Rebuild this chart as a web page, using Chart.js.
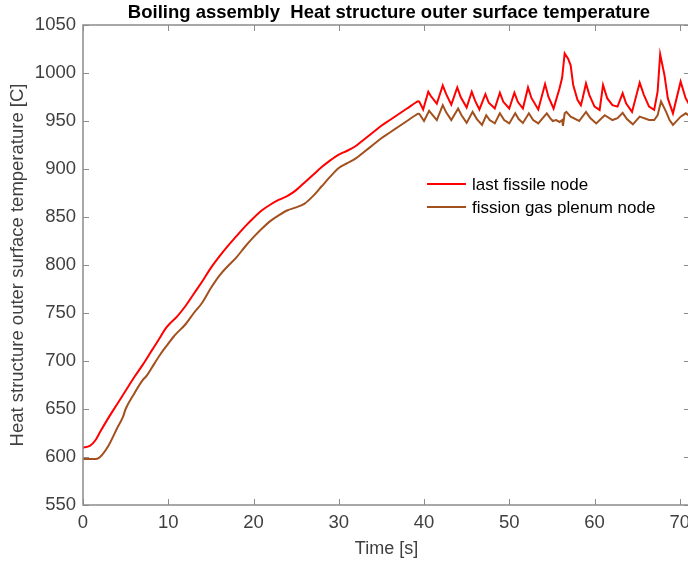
<!DOCTYPE html>
<html>
<head>
<meta charset="utf-8">
<script src="https://cdn.jsdelivr.net/npm/chart.js@4.4.0/dist/chart.umd.min.js"></script>
<style>
  html, body { margin: 0; padding: 0; background: #fff; overflow: hidden; }
  #wrap { width: 688px; height: 562px; overflow: hidden; }
</style>
</head>
<body>
<div id="wrap"><canvas id="myChart" width="692" height="562"></canvas></div>
<script>
const chartTitle = "Boiling assembly  Heat structure outer surface temperature";
const xTitle = "Time [s]";
const yTitle = "Heat structure outer surface temperature [C]";
const seriesNames = ["last fissile node", "fission gas plenum node"];
const seriesColors = ["#ff0000", "#a2501e"];

const redTime = [0, 0.8, 1.5, 2, 3, 4, 5, 6, 7, 8, 9, 9.7, 10.3, 11, 12, 13, 14, 15, 16, 17, 18, 19, 20,
  21, 22, 23, 24, 25, 26, 27, 28, 29, 30, 31, 32, 33, 34, 35, 36, 37, 38, 39, 39.4,
  39.9, 40.5, 40.8, 41.5, 42.2, 42.6, 43.2, 43.9, 44.3, 45.0, 45.6, 46.0, 46.5, 47.2, 47.6, 48.3,
  48.9, 49.3, 50.0, 50.6, 51.0, 51.6, 52.2, 52.6, 53.4, 54.2, 54.6, 55.2, 55.9, 56.2, 56.5, 56.9,
  57.2, 57.5, 58.0, 58.4, 58.6, 59.0, 59.4, 60.0, 60.6, 61.0, 61.5, 62.1, 62.7, 63.3, 63.7, 64.4,
  65.3, 65.8, 66.4, 67.0, 67.4, 67.7, 68.2, 68.6, 69.2, 70.1, 70.7, 71.2];
const redTemp = [610, 611.5, 618, 626, 641, 655, 669, 683, 696, 710, 724, 734, 740, 746, 757, 770, 783, 797, 809, 820, 830, 840, 849,
  857, 863, 868, 872, 878, 886, 894, 902, 909, 915, 919, 924, 931, 938, 945, 951, 957, 963, 969, 971,
  962, 980.5, 976, 968, 987, 978, 967, 985, 975, 964, 980.5, 971, 962, 978, 969, 963,
  979.5, 970, 963, 979.5, 970, 963, 985, 974, 962, 988.5, 975, 963, 984, 995, 1020.5, 1015,
  1008, 987.5, 972, 966.5, 973.5, 989, 977, 965, 961.5, 987.5, 973.5, 966.5, 965, 979, 968.5, 959.5,
  990, 977, 965, 961.5, 980.5, 1019.5, 998, 973.5, 958, 991, 973.5, 966];

const brownTime = [0, 1.5, 2, 3, 4, 4.7, 5, 6, 7, 7.5, 8, 9, 9.4, 10, 10.6, 11, 12, 13, 14, 15, 16, 17, 18, 19, 20,
  21, 22, 23, 24, 25, 26, 27, 28, 29, 30, 31, 32, 33, 34, 35, 36, 37, 38, 39, 39.4,
  40.0, 40.6, 41.5, 42.2, 42.6, 43.2, 44.0, 44.4, 45.0, 45.7, 46.2, 46.8, 47.3, 47.7, 48.3, 48.9,
  49.4, 50.0, 50.7, 51.1, 51.6, 52.3, 52.8, 53.4, 54.4, 54.8, 55.1, 55.5, 55.9, 56.2, 56.3, 56.5,
  56.7, 57.2, 58.2, 59.0, 59.5, 60.2, 61.2, 62.1, 62.7, 63.3, 63.8, 64.5, 65.3, 66.4, 67.0, 67.4,
  67.8, 68.4, 68.8, 69.2, 70.1, 70.7, 71.2];
const brownTemp = [598, 598, 600, 612, 630, 642, 650, 666, 680, 685, 692, 706, 711, 718, 725, 729, 738, 750, 761, 776, 789, 799, 808, 819, 829,
  838, 846, 852, 857, 860, 864, 872, 882, 892, 901, 906, 911, 918, 925, 932, 938, 944, 950, 956, 958,
  950, 960.5, 951, 966.5, 959, 951, 963, 956, 948, 959.5, 952, 946, 956, 951, 947.5, 958,
  951, 947.5, 958, 952, 948, 958, 951, 947.5, 958, 953, 950, 951, 949, 951, 945, 958,
  959.5, 954.5, 950, 959.5, 953, 947.5, 956, 951, 953, 958.5, 952, 946.5, 954.5, 951, 951, 956,
  970.5, 959.5, 951, 946, 954.5, 958, 955];

const xTicks = [0, 10, 20, 30, 40, 50, 60, 70];
const yTicks = [550, 600, 650, 700, 750, 800, 850, 900, 950, 1000, 1050];
// the smooth heat-up part ends here, after that the signal oscillates
const rampEnd = 39.4;

const fontFamily = "'Liberation Sans', Arial, sans-serif";
const axisColor = "#8c8c8c";
const textColor = "#404040";

function toPoints(xs, ys) {
  return xs.map((x, i) => ({ x: x, y: ys[i] }));
}

// ramp drawn smooth, oscillating part drawn point to point
function seriesDatasets(xs, ys, idx) {
  const pts = toPoints(xs, ys);
  const common = { borderColor: seriesColors[idx], borderWidth: 2, pointRadius: 0, fill: false, label: seriesNames[idx] };
  return [
    Object.assign({}, common, { data: pts.filter((p) => p.x <= rampEnd), cubicInterpolationMode: "monotone" }),
    Object.assign({}, common, { data: pts.filter((p) => p.x >= rampEnd), tension: 0 })
  ];
}

// frame, inward ticks, title and legend like the matlab figure
const framePlugin = {
  id: "frame",
  afterDraw(chart) {
    const ctx = chart.ctx;
    const area = chart.chartArea;
    const xs = chart.scales.x;
    const ys = chart.scales.y;
    const tl = 6;
    ctx.save();
    ctx.strokeStyle = axisColor;
    ctx.lineWidth = 1.5;
    ctx.beginPath();
    ctx.moveTo(area.left, area.top);
    ctx.lineTo(area.left, area.bottom);
    ctx.lineTo(area.right, area.bottom);
    ctx.lineTo(area.right, area.top);
    ctx.closePath();
    ctx.stroke();
    ctx.lineWidth = 1;
    ctx.beginPath();
    xTicks.forEach((v) => {
      const px = Math.round(xs.getPixelForValue(v)) + 0.5;
      ctx.moveTo(px, area.bottom);
      ctx.lineTo(px, area.bottom - tl);
      ctx.moveTo(px, area.top);
      ctx.lineTo(px, area.top + tl);
    });
    yTicks.forEach((v) => {
      const py = Math.round(ys.getPixelForValue(v)) + 0.5;
      ctx.moveTo(area.left, py);
      ctx.lineTo(area.left + tl, py);
      ctx.moveTo(area.right, py);
      ctx.lineTo(area.right - tl, py);
    });
    ctx.stroke();

    ctx.fillStyle = "#000";
    ctx.font = "bold 18.5px " + fontFamily;
    ctx.textAlign = "center";
    ctx.textBaseline = "middle";
    ctx.fillText(chartTitle, 389, 13);

    ctx.font = "17px " + fontFamily;
    ctx.textAlign = "left";
    ctx.fillStyle = "#000";
    const legendY = [184, 207];
    seriesNames.forEach((name, i) => {
      ctx.strokeStyle = seriesColors[i];
      ctx.lineWidth = 2;
      ctx.beginPath();
      ctx.moveTo(427, legendY[i]);
      ctx.lineTo(466, legendY[i]);
      ctx.stroke();
      ctx.fillText(name, 472, legendY[i] + 1);
    });
    ctx.restore();
  }
};

const ctx = document.getElementById("myChart").getContext("2d");
const myChart = new Chart(ctx, {
  type: "line",
  data: {
    datasets: seriesDatasets(redTime, redTemp, 0).concat(seriesDatasets(brownTime, brownTemp, 1))
  },
  options: {
    responsive: false,
    animation: false,
    devicePixelRatio: 1,
    layout: { padding: { top: 25, right: 2, left: 0, bottom: 0 } },
    plugins: {
      legend: { display: false },
      title: { display: false },
      tooltip: { enabled: false }
    },
    scales: {
      x: {
        type: "linear",
        min: 0,
        max: 71.2,
        afterFit: (scale) => {
          scale.height = 57;
          scale.paddingLeft = 0;
          scale.paddingRight = 0;
        },
        afterBuildTicks: (scale) => { scale.ticks = xTicks.map((v) => ({ value: v })); },
        grid: { display: false, drawTicks: false },
        border: { display: false },
        ticks: { color: textColor, font: { family: fontFamily, size: 18.5 }, padding: 7, maxRotation: 0,
          callback: (v) => String(v) },
        title: { display: true, text: xTitle, color: textColor, font: { family: fontFamily, size: 18 }, padding: { top: 0, bottom: 2 } }
      },
      y: {
        min: 550,
        max: 1050,
        afterFit: (scale) => {
          scale.width = 83;
          scale.paddingTop = 0;
          scale.paddingBottom = 0;
        },
        afterBuildTicks: (scale) => { scale.ticks = yTicks.map((v) => ({ value: v })); },
        grid: { display: false, drawTicks: false },
        border: { display: false },
        ticks: { color: textColor, font: { family: fontFamily, size: 18.5 }, padding: 7,
          callback: (v) => String(v) },
        title: { display: true, text: yTitle, color: textColor, font: { family: fontFamily, size: 18.5 }, padding: { top: 7, bottom: 0 } }
      }
    }
  },
  plugins: [framePlugin]
});
</script>
</body>
</html>
